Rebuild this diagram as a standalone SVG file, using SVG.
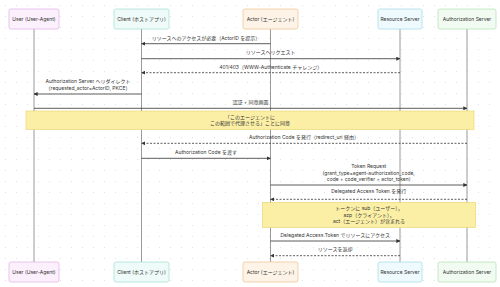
<svg xmlns="http://www.w3.org/2000/svg" width="500" height="287" viewBox="0 0 500 287">
<defs>
<pattern id="dots" width="11" height="11" patternUnits="userSpaceOnUse">
<circle cx="5.5" cy="5.5" r="0.55" fill="#dcdcdc"/>
</pattern>
<marker id="ah" viewBox="0 0 6 6" refX="5.5" refY="3" markerWidth="4" markerHeight="4" orient="auto-start-reverse" markerUnits="userSpaceOnUse">
<path d="M0,0 L6,3 L0,6 z" fill="#333"/>
</marker>
<style>
text{font-family:"Inter","Noto Sans CJK JP","Noto Sans",sans-serif;font-size:5px;fill:#333;text-anchor:middle}
.life{stroke:#9a9a9a;stroke-width:1}
.msg{stroke:#333;stroke-width:0.8;fill:none;marker-end:url(#ah)}
.dash{stroke-dasharray:2,1.5}
.note{fill:#fbefa6;stroke:#e6d36a;stroke-width:0.6}
.u{fill:#fcf0fd;stroke:#e3b6ea}
.c{fill:#effbf8;stroke:#a9e2d5}
.a{fill:#fdf3e7;stroke:#f0c898}
.r{fill:#eefafd;stroke:#a9dee9}
.s{fill:#f1fbf1;stroke:#b7e4b7}
rect.box{stroke-width:0.8}
</style>
</defs>
<rect width="500" height="287" fill="#ffffff"/>
<rect width="500" height="287" fill="url(#dots)"/>

<g id="lifelines">
<line class="life" x1="34" y1="29" x2="34" y2="262"/>
<line class="life" x1="141.5" y1="29" x2="141.5" y2="262"/>
<line class="life" x1="270.5" y1="29" x2="270.5" y2="262"/>
<line class="life" x1="400" y1="29" x2="400" y2="262"/>
<line class="life" x1="467" y1="29" x2="467" y2="262"/>
</g>

<g id="user">
<rect class="box u" x="9" y="9" width="50" height="20" rx="2"/>
<text x="34" y="20.8">User (User-Agent)</text>
<rect class="box u" x="9" y="262" width="50" height="20" rx="2"/>
<text x="34" y="273.8">User (User-Agent)</text>
</g>
<g id="client">
<rect class="box c" x="114" y="9" width="55" height="20" rx="2"/>
<text x="141.5" y="20.8">Client (ホストアプリ)</text>
<rect class="box c" x="114" y="262" width="55" height="20" rx="2"/>
<text x="141.5" y="273.8">Client (ホストアプリ)</text>
</g>
<g id="actor">
<rect class="box a" x="243" y="9" width="55" height="20" rx="2"/>
<text x="270.5" y="20.8">Actor (エージェント)</text>
<rect class="box a" x="243" y="262" width="55" height="20" rx="2"/>
<text x="270.5" y="273.8">Actor (エージェント)</text>
</g>
<g id="resource">
<rect class="box r" x="378" y="9" width="44" height="20" rx="2"/>
<text x="400" y="20.8">Resource Server</text>
<rect class="box r" x="378" y="262" width="44" height="20" rx="2"/>
<text x="400" y="273.8">Resource Server</text>
</g>
<g id="authserver">
<rect class="box s" x="438" y="9" width="58" height="20" rx="2"/>
<text x="467" y="20.8">Authorization Server</text>
<rect class="box s" x="438" y="262" width="58" height="20" rx="2"/>
<text x="467" y="273.8">Authorization Server</text>
</g>

<g id="connectors">
<line class="msg" x1="270.5" y1="43.7" x2="141.5" y2="43.7"/>
<text x="206" y="39.5">リソースへのアクセスが必要（ActorID を提示）</text>

<line class="msg" x1="141.5" y1="58.7" x2="400" y2="58.7"/>
<text x="270.7" y="54">リソースへリクエスト</text>

<line class="msg dash" x1="400" y1="72.7" x2="141.5" y2="72.7"/>
<text x="270.7" y="68.5">401/403（WWW-Authenticate チャレンジ）</text>

<line class="msg" x1="141.5" y1="94" x2="34" y2="94"/>
<text x="88" y="83">Authorization Server へリダイレクト</text>
<text x="88" y="89.5">（requested_actor=ActorID, PKCE）</text>

<line class="msg" x1="34" y1="108.3" x2="467" y2="108.3"/>
<text x="250.5" y="103.8">認証 + 同意画面</text>

<line class="msg dash" x1="467" y1="143.3" x2="141.5" y2="143.3"/>
<text x="304" y="139">Authorization Code を発行（redirect_uri 経由）</text>

<line class="msg" x1="141.5" y1="158.3" x2="270.5" y2="158.3"/>
<text x="206" y="154">Authorization Code を渡す</text>

<line class="msg" x1="270.5" y1="185" x2="467" y2="185"/>
<text x="368.7" y="168.3">Token Request</text>
<text x="368.7" y="174.6">(grant_type=agent-authorization_code,</text>
<text x="368.7" y="180.9">code + code_verifier + actor_token)</text>

<line class="msg dash" x1="467" y1="199.3" x2="270.5" y2="199.3"/>
<text x="368.7" y="193.3">Delegated Access Token を発行</text>

<line class="msg" x1="270.5" y1="241" x2="400" y2="241"/>
<text x="335.2" y="236.5">Delegated Access Token でリソースにアクセス</text>

<line class="msg dash" x1="400" y1="255.7" x2="270.5" y2="255.7"/>
<text x="335.2" y="250.8">リソースを返却</text>
</g>

<g id="note1">
<rect class="note" x="26" y="111" width="448" height="18.5"/>
<text x="250" y="118.5">「このエージェントに</text>
<text x="250" y="125.3">この範囲で代理させる」ことに同意</text>
</g>
<g id="note2">
<rect class="note" x="262.5" y="202.5" width="213" height="25"/>
<text x="369" y="210.3">トークンに sub（ユーザー），</text>
<text x="369" y="216.8">azp（クライアント），</text>
<text x="369" y="223.3">act（エージェント）が含まれる</text>
</g>
</svg>
